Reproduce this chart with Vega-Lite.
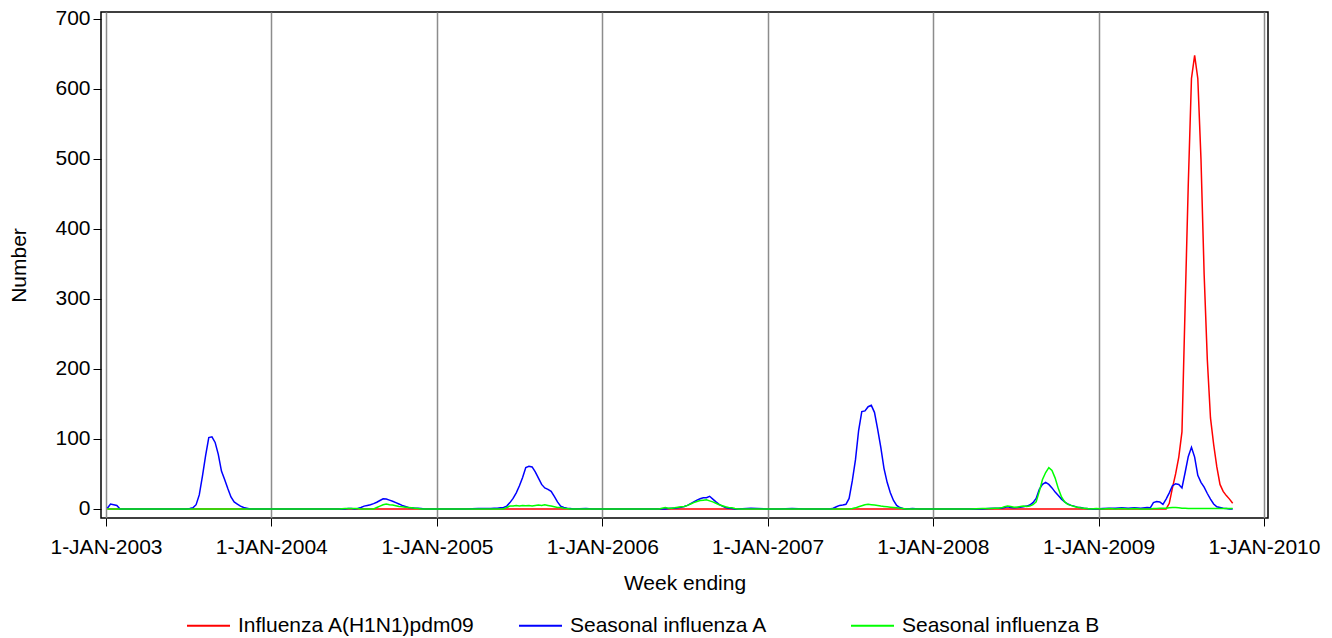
{
  "$schema": "https://vega.github.io/schema/vega-lite/v6.json",
  "width": 1167,
  "height": 506,
  "autosize": {"type": "none"},
  "padding": {"left": 101, "top": 12, "right": 64, "bottom": 120},
  "background": "white",
  "config": {
    "font": "Liberation Sans",
    "view": {"stroke": "#000000", "strokeWidth": 1.5}
  },
  "data": {
    "values": [
      {"d":"2003-01-04","h":0,"a":1,"b":0},
      {"d":"2003-01-11","h":0,"a":7,"b":0},
      {"d":"2003-01-18","h":0,"a":6,"b":0},
      {"d":"2003-01-25","h":0,"a":5,"b":0},
      {"d":"2003-02-01","h":0,"a":0,"b":0},
      {"d":"2003-03-01","h":0,"a":0,"b":0},
      {"d":"2003-04-05","h":0,"a":0,"b":0},
      {"d":"2003-05-03","h":0,"a":0,"b":0},
      {"d":"2003-06-07","h":0,"a":0,"b":0},
      {"d":"2003-06-28","h":0,"a":0,"b":0},
      {"d":"2003-07-05","h":0,"a":0.5,"b":0},
      {"d":"2003-07-12","h":0,"a":1.5,"b":0},
      {"d":"2003-07-19","h":0,"a":6,"b":0},
      {"d":"2003-07-26","h":0,"a":20,"b":0},
      {"d":"2003-08-02","h":0,"a":47,"b":0},
      {"d":"2003-08-09","h":0,"a":76,"b":0},
      {"d":"2003-08-16","h":0,"a":102,"b":0},
      {"d":"2003-08-23","h":0,"a":103,"b":0},
      {"d":"2003-08-30","h":0,"a":95,"b":0},
      {"d":"2003-09-06","h":0,"a":78,"b":0},
      {"d":"2003-09-13","h":0,"a":54,"b":0},
      {"d":"2003-09-20","h":0,"a":42,"b":0},
      {"d":"2003-09-27","h":0,"a":29,"b":0},
      {"d":"2003-10-04","h":0,"a":17,"b":0},
      {"d":"2003-10-11","h":0,"a":10,"b":0},
      {"d":"2003-10-18","h":0,"a":7,"b":0},
      {"d":"2003-10-25","h":0,"a":4,"b":0},
      {"d":"2003-11-01","h":0,"a":2,"b":0},
      {"d":"2003-11-08","h":0,"a":1,"b":0},
      {"d":"2003-11-15","h":0,"a":0,"b":0},
      {"d":"2003-12-13","h":0,"a":0,"b":0},
      {"d":"2004-01-10","h":0,"a":0,"b":0},
      {"d":"2004-02-07","h":0,"a":0,"b":0},
      {"d":"2004-03-06","h":0,"a":0,"b":0},
      {"d":"2004-04-03","h":0,"a":0,"b":0},
      {"d":"2004-05-01","h":0,"a":0,"b":0},
      {"d":"2004-05-29","h":0,"a":0,"b":0},
      {"d":"2004-06-12","h":0,"a":0,"b":0.5},
      {"d":"2004-06-19","h":0,"a":0.5,"b":0.5},
      {"d":"2004-06-26","h":0,"a":0.5,"b":0.5},
      {"d":"2004-07-03","h":0,"a":0,"b":0.5},
      {"d":"2004-07-10","h":0,"a":0.5,"b":0.5},
      {"d":"2004-07-17","h":0,"a":2,"b":0},
      {"d":"2004-07-24","h":0,"a":4,"b":0},
      {"d":"2004-07-31","h":0,"a":5,"b":0},
      {"d":"2004-08-07","h":0,"a":6,"b":0},
      {"d":"2004-08-14","h":0,"a":7.5,"b":0},
      {"d":"2004-08-21","h":0,"a":9.5,"b":2},
      {"d":"2004-08-28","h":0,"a":12,"b":4},
      {"d":"2004-09-04","h":0,"a":14.5,"b":6},
      {"d":"2004-09-11","h":0,"a":14,"b":7},
      {"d":"2004-09-18","h":0,"a":12.5,"b":6},
      {"d":"2004-09-25","h":0,"a":11,"b":5.5},
      {"d":"2004-10-02","h":0,"a":9,"b":4.5},
      {"d":"2004-10-09","h":0,"a":7,"b":3.5},
      {"d":"2004-10-16","h":0,"a":5,"b":3},
      {"d":"2004-10-23","h":0,"a":3.5,"b":2.5},
      {"d":"2004-10-30","h":0,"a":2,"b":2},
      {"d":"2004-11-06","h":0,"a":1.5,"b":1.5},
      {"d":"2004-11-13","h":0,"a":1,"b":1},
      {"d":"2004-11-20","h":0,"a":1,"b":0.5},
      {"d":"2004-11-27","h":0,"a":0.5,"b":0},
      {"d":"2004-12-04","h":0,"a":0,"b":0},
      {"d":"2005-01-01","h":0,"a":0,"b":0},
      {"d":"2005-02-05","h":0,"a":0,"b":0},
      {"d":"2005-03-05","h":0,"a":0,"b":0},
      {"d":"2005-04-02","h":0,"a":0.5,"b":0},
      {"d":"2005-04-23","h":0,"a":0.5,"b":0},
      {"d":"2005-04-30","h":0,"a":0.5,"b":0},
      {"d":"2005-05-07","h":0,"a":1,"b":0},
      {"d":"2005-05-14","h":0,"a":1,"b":0},
      {"d":"2005-05-21","h":0,"a":1.5,"b":0},
      {"d":"2005-05-28","h":0,"a":2,"b":0},
      {"d":"2005-06-04","h":0,"a":4,"b":2},
      {"d":"2005-06-11","h":0,"a":9,"b":4},
      {"d":"2005-06-18","h":0,"a":15,"b":4},
      {"d":"2005-06-25","h":0,"a":23,"b":5},
      {"d":"2005-07-02","h":0,"a":33,"b":4},
      {"d":"2005-07-09","h":0,"a":45,"b":5},
      {"d":"2005-07-16","h":0,"a":59,"b":4.5},
      {"d":"2005-07-23","h":0,"a":61,"b":5},
      {"d":"2005-07-30","h":0,"a":60,"b":4},
      {"d":"2005-08-06","h":0,"a":53,"b":5},
      {"d":"2005-08-13","h":0,"a":44,"b":5.5},
      {"d":"2005-08-20","h":0,"a":35,"b":5},
      {"d":"2005-08-27","h":0,"a":30,"b":6},
      {"d":"2005-09-03","h":0,"a":28,"b":5},
      {"d":"2005-09-10","h":0,"a":25,"b":4},
      {"d":"2005-09-17","h":0,"a":18,"b":3},
      {"d":"2005-09-24","h":0,"a":10,"b":2},
      {"d":"2005-10-01","h":0,"a":4,"b":2},
      {"d":"2005-10-08","h":0,"a":2,"b":1},
      {"d":"2005-10-15","h":0,"a":1,"b":0.5},
      {"d":"2005-10-22","h":0,"a":0.5,"b":0},
      {"d":"2005-10-29","h":0,"a":0,"b":0},
      {"d":"2005-11-26","h":0,"a":0.5,"b":0},
      {"d":"2005-12-10","h":0,"a":0,"b":0},
      {"d":"2006-01-07","h":0,"a":0,"b":0},
      {"d":"2006-02-04","h":0,"a":0,"b":0},
      {"d":"2006-03-04","h":0,"a":0,"b":0},
      {"d":"2006-04-01","h":0,"a":0,"b":0},
      {"d":"2006-04-29","h":0,"a":0,"b":0},
      {"d":"2006-05-06","h":0,"a":0,"b":0},
      {"d":"2006-05-13","h":0,"a":0,"b":1},
      {"d":"2006-05-20","h":0,"a":0,"b":2},
      {"d":"2006-05-27","h":0,"a":0.5,"b":1},
      {"d":"2006-06-03","h":0,"a":1,"b":1},
      {"d":"2006-06-10","h":0,"a":1,"b":1.5},
      {"d":"2006-06-17","h":0,"a":1.5,"b":2.5},
      {"d":"2006-06-24","h":0,"a":2.5,"b":3},
      {"d":"2006-07-01","h":0,"a":3.5,"b":3.5},
      {"d":"2006-07-08","h":0,"a":5,"b":5},
      {"d":"2006-07-15","h":0,"a":7.5,"b":7},
      {"d":"2006-07-22","h":0,"a":10,"b":9},
      {"d":"2006-07-29","h":0,"a":12.5,"b":10.5},
      {"d":"2006-08-05","h":0,"a":14.5,"b":12},
      {"d":"2006-08-12","h":0,"a":16,"b":12.5},
      {"d":"2006-08-19","h":0,"a":16,"b":13},
      {"d":"2006-08-26","h":0,"a":18,"b":11.5},
      {"d":"2006-09-02","h":0,"a":14,"b":10},
      {"d":"2006-09-09","h":0,"a":10,"b":8},
      {"d":"2006-09-16","h":0,"a":6.5,"b":6},
      {"d":"2006-09-23","h":0,"a":4,"b":4.5},
      {"d":"2006-09-30","h":0,"a":2,"b":3},
      {"d":"2006-10-07","h":0,"a":1,"b":2},
      {"d":"2006-10-14","h":0,"a":0.5,"b":1.5},
      {"d":"2006-10-21","h":0,"a":0,"b":0.5},
      {"d":"2006-10-28","h":0,"a":0,"b":0},
      {"d":"2006-11-25","h":0,"a":1,"b":0},
      {"d":"2006-12-09","h":0,"a":0.5,"b":0},
      {"d":"2006-12-30","h":0,"a":0,"b":0},
      {"d":"2007-01-27","h":0,"a":0,"b":0},
      {"d":"2007-02-24","h":0,"a":0.5,"b":0},
      {"d":"2007-03-24","h":0,"a":0,"b":0},
      {"d":"2007-04-21","h":0,"a":0,"b":0},
      {"d":"2007-05-19","h":0,"a":0,"b":0},
      {"d":"2007-05-26","h":0,"a":1,"b":0},
      {"d":"2007-06-02","h":0,"a":3,"b":0},
      {"d":"2007-06-09","h":0,"a":5,"b":0},
      {"d":"2007-06-16","h":0,"a":5.5,"b":0},
      {"d":"2007-06-23","h":0,"a":6.5,"b":0},
      {"d":"2007-06-30","h":0,"a":15,"b":0},
      {"d":"2007-07-07","h":0,"a":40,"b":0.5},
      {"d":"2007-07-14","h":0,"a":70,"b":1.5},
      {"d":"2007-07-21","h":0,"a":112,"b":3},
      {"d":"2007-07-28","h":0,"a":139,"b":4.5},
      {"d":"2007-08-04","h":0,"a":140,"b":6},
      {"d":"2007-08-11","h":0,"a":146,"b":6.5},
      {"d":"2007-08-18","h":0,"a":148,"b":6},
      {"d":"2007-08-25","h":0,"a":138,"b":5.5},
      {"d":"2007-09-01","h":0,"a":114,"b":5},
      {"d":"2007-09-08","h":0,"a":88,"b":4},
      {"d":"2007-09-15","h":0,"a":58,"b":3.5},
      {"d":"2007-09-22","h":0,"a":38,"b":3},
      {"d":"2007-09-29","h":0,"a":23,"b":2.5},
      {"d":"2007-10-06","h":0,"a":12,"b":2},
      {"d":"2007-10-13","h":0,"a":5,"b":1.5},
      {"d":"2007-10-20","h":0,"a":2,"b":1},
      {"d":"2007-10-27","h":0,"a":0.5,"b":0.5},
      {"d":"2007-11-03","h":0,"a":0,"b":0},
      {"d":"2007-11-17","h":0,"a":0.5,"b":0},
      {"d":"2007-12-01","h":0,"a":0,"b":0},
      {"d":"2007-12-29","h":0,"a":0,"b":0},
      {"d":"2008-01-26","h":0,"a":0,"b":0},
      {"d":"2008-02-23","h":0,"a":0,"b":0},
      {"d":"2008-03-22","h":0,"a":0,"b":0},
      {"d":"2008-04-19","h":0,"a":0,"b":0.5},
      {"d":"2008-05-03","h":0,"a":0.5,"b":0.5},
      {"d":"2008-05-17","h":0,"a":1,"b":1},
      {"d":"2008-05-24","h":0,"a":1,"b":1},
      {"d":"2008-05-31","h":0,"a":1,"b":1.5},
      {"d":"2008-06-07","h":0,"a":2,"b":3},
      {"d":"2008-06-14","h":0,"a":3,"b":4},
      {"d":"2008-06-21","h":0,"a":2,"b":3.5},
      {"d":"2008-06-28","h":0,"a":1.5,"b":2.5},
      {"d":"2008-07-05","h":0,"a":2,"b":2.5},
      {"d":"2008-07-12","h":0,"a":2.5,"b":3.5},
      {"d":"2008-07-19","h":0,"a":3,"b":4},
      {"d":"2008-07-26","h":0,"a":4,"b":3.5},
      {"d":"2008-08-02","h":0,"a":5.5,"b":4},
      {"d":"2008-08-09","h":0,"a":9,"b":6},
      {"d":"2008-08-16","h":0,"a":15,"b":10},
      {"d":"2008-08-23","h":0,"a":28,"b":25},
      {"d":"2008-08-30","h":0,"a":35,"b":42},
      {"d":"2008-09-06","h":0,"a":38,"b":52},
      {"d":"2008-09-13","h":0,"a":35,"b":59},
      {"d":"2008-09-20","h":0,"a":30,"b":55},
      {"d":"2008-09-27","h":0,"a":24,"b":44},
      {"d":"2008-10-04","h":0,"a":19,"b":29},
      {"d":"2008-10-11","h":0,"a":14,"b":17},
      {"d":"2008-10-18","h":0,"a":10,"b":10},
      {"d":"2008-10-25","h":0,"a":7,"b":6.5},
      {"d":"2008-11-01","h":0,"a":5,"b":5},
      {"d":"2008-11-08","h":0,"a":4,"b":3.5},
      {"d":"2008-11-15","h":0,"a":2.5,"b":2.5},
      {"d":"2008-11-22","h":0,"a":2,"b":1.5},
      {"d":"2008-11-29","h":0,"a":1,"b":1},
      {"d":"2008-12-06","h":0,"a":0.5,"b":0.5},
      {"d":"2008-12-13","h":0,"a":0,"b":0},
      {"d":"2008-12-27","h":0,"a":0,"b":0.5},
      {"d":"2009-01-10","h":0,"a":0.5,"b":0},
      {"d":"2009-01-24","h":0,"a":1,"b":0.5},
      {"d":"2009-02-07","h":0,"a":1,"b":0},
      {"d":"2009-02-21","h":0,"a":1.5,"b":0.5},
      {"d":"2009-03-07","h":0,"a":1,"b":0},
      {"d":"2009-03-21","h":0,"a":1.5,"b":0.5},
      {"d":"2009-04-04","h":0,"a":1,"b":0},
      {"d":"2009-04-18","h":0,"a":2,"b":0},
      {"d":"2009-04-25","h":0,"a":1.5,"b":0},
      {"d":"2009-05-02","h":0,"a":9,"b":0.5},
      {"d":"2009-05-09","h":0,"a":10.5,"b":0.5},
      {"d":"2009-05-16","h":0,"a":10,"b":1},
      {"d":"2009-05-23","h":0,"a":6.5,"b":1},
      {"d":"2009-05-30","h":0,"a":14,"b":1},
      {"d":"2009-06-06","h":8,"a":23,"b":1.5},
      {"d":"2009-06-13","h":30,"a":33,"b":2},
      {"d":"2009-06-20","h":50,"a":36,"b":2},
      {"d":"2009-06-27","h":74,"a":35,"b":1.5},
      {"d":"2009-07-04","h":110,"a":30,"b":1},
      {"d":"2009-07-11","h":290,"a":52,"b":1},
      {"d":"2009-07-18","h":465,"a":75,"b":0.5},
      {"d":"2009-07-25","h":615,"a":88,"b":0.5},
      {"d":"2009-08-01","h":648,"a":74,"b":0.5},
      {"d":"2009-08-08","h":615,"a":48,"b":0.5},
      {"d":"2009-08-15","h":500,"a":38,"b":0.5},
      {"d":"2009-08-22","h":335,"a":31,"b":0.5},
      {"d":"2009-08-29","h":213,"a":22,"b":0.5},
      {"d":"2009-09-05","h":130,"a":14,"b":0.5},
      {"d":"2009-09-12","h":92,"a":7,"b":0.5},
      {"d":"2009-09-19","h":60,"a":3,"b":0.5},
      {"d":"2009-09-26","h":35,"a":2,"b":0.5},
      {"d":"2009-10-03","h":25,"a":1,"b":0.5},
      {"d":"2009-10-10","h":19,"a":0.5,"b":0.5},
      {"d":"2009-10-17","h":14,"a":0,"b":0.5},
      {"d":"2009-10-24","h":8,"a":0,"b":0.5}
    ]
  },
  "transform": [{"fold": ["h", "a", "b"], "as": ["s", "v"]}],
  "mark": {"type": "line", "strokeWidth": 1.5},
  "encoding": {
    "x": {
      "field": "d",
      "type": "temporal",
      "scale": {
        "type": "utc",
        "domain": [
          {"year": 2002, "month": 12, "date": 21, "utc": true},
          {"year": 2010, "month": 1, "date": 10, "utc": true}
        ]
      },
      "axis": {
        "values": [
          {"year": 2003, "month": 1, "date": 1, "utc": true},
          {"year": 2004, "month": 1, "date": 1, "utc": true},
          {"year": 2005, "month": 1, "date": 1, "utc": true},
          {"year": 2006, "month": 1, "date": 1, "utc": true},
          {"year": 2007, "month": 1, "date": 1, "utc": true},
          {"year": 2008, "month": 1, "date": 1, "utc": true},
          {"year": 2009, "month": 1, "date": 1, "utc": true},
          {"year": 2010, "month": 1, "date": 1, "utc": true}
        ],
        "labelExpr": "'1-JAN-' + utcFormat(datum.value, '%Y')",
        "grid": true,
        "gridColor": "#8c8c8c",
        "gridWidth": 1.5,
        "domain": false,
        "tickSize": 8,
        "tickColor": "#000000",
        "labelFontSize": 21,
        "labelColor": "#000000",
        "labelPadding": 10,
        "labelFlush": false,
        "labelOverlap": false,
        "title": "Week ending",
        "titleFontSize": 21,
        "titleFontWeight": "normal",
        "titleColor": "#000000",
        "titlePadding": 15
      }
    },
    "y": {
      "field": "v",
      "type": "quantitative",
      "scale": {"domain": [-13, 710], "nice": false, "zero": false},
      "axis": {
        "values": [0, 100, 200, 300, 400, 500, 600, 700],
        "grid": false,
        "domain": false,
        "tickSize": 8,
        "tickColor": "#000000",
        "labelFontSize": 21,
        "labelColor": "#000000",
        "labelPadding": 3,
        "title": "Number",
        "titleFontSize": 21,
        "titleFontWeight": "normal",
        "titleColor": "#000000",
        "titlePadding": 25
      }
    },
    "color": {
      "field": "s",
      "type": "nominal",
      "scale": {"domain": ["h", "a", "b"], "range": ["#ff0000", "#0000ff", "#00ff00"]},
      "legend": {
        "title": null,
        "orient": "none",
        "legendX": 85,
        "legendY": 591,
        "direction": "horizontal",
        "columns": 3,
        "gridAlign": "all",
        "columnPadding": 40,
        "padding": 0,
        "symbolType": "stroke",
        "symbolSize": 1849,
        "symbolStrokeWidth": 2,
        "labelFontSize": 21,
        "labelColor": "#000000",
        "labelOffset": 7,
        "labelLimit": 0,
        "labelExpr": "datum.label == 'h' ? 'Influenza A(H1N1)pdm09' : datum.label == 'a' ? 'Seasonal influenza A' : 'Seasonal influenza B'"
      }
    }
  }
}
